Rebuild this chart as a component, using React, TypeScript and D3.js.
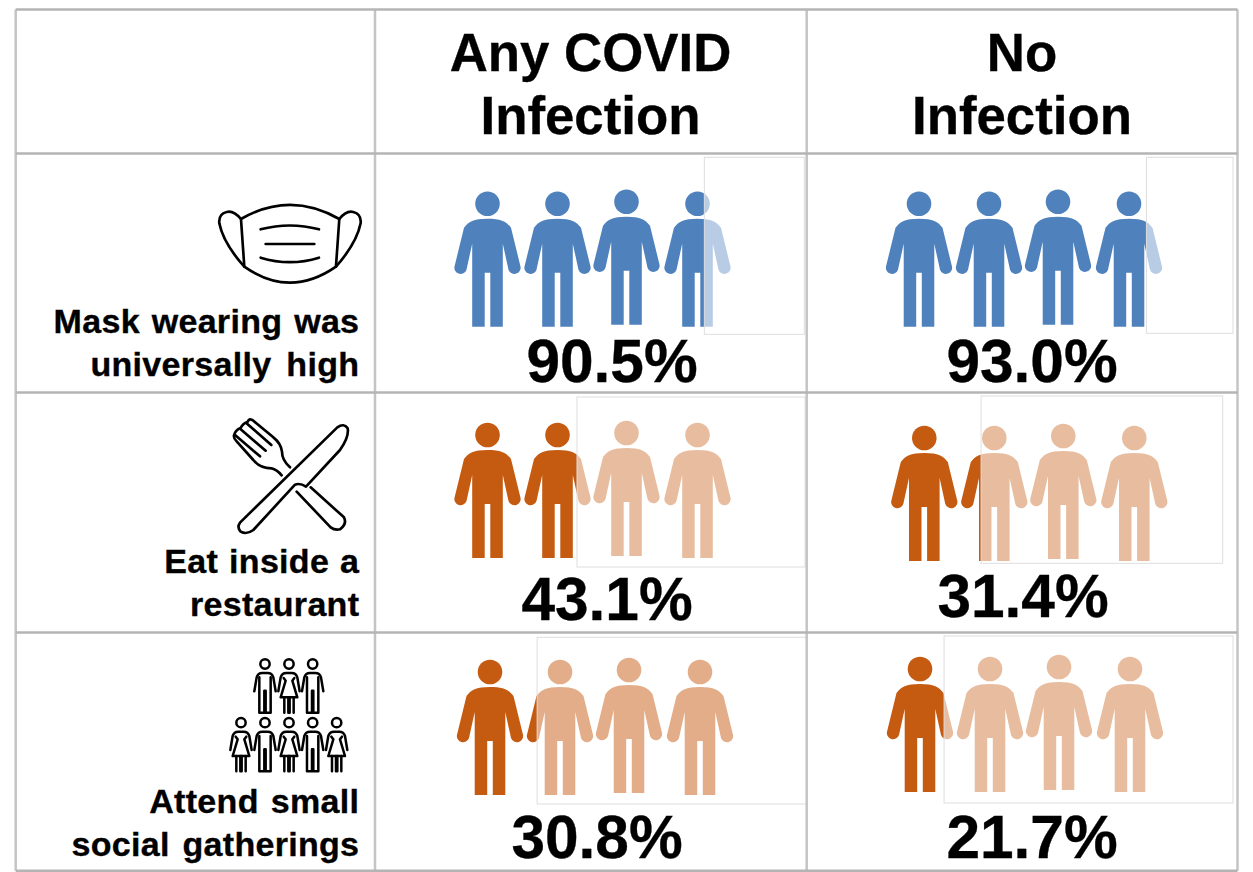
import React from "react";
import * as d3 from "d3";

const headers = [["Any COVID", "Infection"], ["No", "Infection"]];
const rowLabels = [
  ["Mask wearing was", "universally high"],
  ["Eat inside a", "restaurant"],
  ["Attend small", "social gatherings"],
];
const valuesAny = [90.5, 43.1, 30.8];
const valuesNone = [93.0, 31.4, 21.7];
const rowColors = ["#4F81BD", "#C55A11", "#C55A11"];

// layout constants
const W = 1253, H = 872;
const colEdges = [15.7, 375, 806.7, 1237.5];
const rowEdges = [9.5, 153.4, 392.6, 632.5, 870.8];
const personOffsets = [0, 70, 139, 210];
const personLift = [0, 0, -2, 0];
// first head centre per [row][panel]
const firstHead = [[[487.5, 203.7], [919, 203.7]], [[487.5, 435], [924.3, 438]], [[490, 672], [920, 669]]];
// overlay box per [row][panel]: nudge from value, right, top, bottom, white alpha
const overlayBox = [
  [[0.3, 804.3, 157.3, 334.3, 0.6], [4, 1233, 157.3, 333.3, 0.6]],
  [[3.5, 805, 397, 567, 0.6], [3, 1222.7, 396, 563.3, 0.6]],
  [[-5, 806.7, 637.3, 804, 0.5], [-3, 1233, 636, 803, 0.6]],
];
const valueLabelPos = [[[612, 382], [1032, 382]], [[607, 620], [1023, 617]], [[597, 858], [1032, 858]]];
const labelWordSpacing = [[2.1, 5.2], [1.2, 4], [2.4, 3]];

const personBody = "M0,15 C14,15 19,18 23.5,24 L32.8,62 A6,6 0 0 1 21,66 L15.3,40 L15.3,123 L2.8,123 L2.8,69 L-2.8,69 L-2.8,123 L-15.3,123 L-15.3,40 L-21,66 A6,6 0 0 1 -32.8,62 L-23.5,24 C-19,18 -14,15 0,15 Z";

const Person = ({ x, y, color }: { x: number; y: number; color: string }) => (
  <g transform={`translate(${x},${y})`} fill={color}>
    <circle cx={0} cy={0} r={12.3} />
    <path d={personBody} />
  </g>
);

const ink = { fill: "none", stroke: "#000", strokeLinecap: "round" as const, strokeLinejoin: "round" as const };

const MaskIcon = () => (
  <g transform="translate(0,150) scale(0.3333)" {...ink} strokeWidth={8}>
    <path d="M723,207 Q870,122 1018,207 L1008,350 Q870,446 733,350 Z" />
    <path d="M723,207 Q700,180 680,186 Q655,192 658,220 Q670,280 733,350" />
    <path d="M1018,207 Q1040,180 1060,186 Q1085,192 1082,220 Q1070,280 1008,350" />
    <path d="M782,238 Q870,215 957,238" />
    <path d="M797,282 L943,282" />
    <path d="M782,323 Q870,350 957,323" />
  </g>
);

const CutleryIcon = () => (
  <g transform="translate(200,400) scale(0.3333)" {...ink} strokeWidth={8}>
    <path d="M270,202 Q246,180 246,155 Q243,130 220,112 L160,62 Q148,53 143,65 M143,65 Q128,70 122,84 Q106,90 102,106 Q100,114 110,124 L160,180 Q180,205 215,205 Q230,208 245,226" />
    <path d="M214,135 L142,72" />
    <path d="M197,152 L122,88" />
    <path d="M180,169 L106,106" />
    <path d="M120,368 L412,82 Q432,68 443,85 Q448,110 420,150 L318,260 Q300,248 285,254 L160,390 Q140,405 122,395 Q110,382 120,368 Z" />
    <path d="M332,262 L432,352 Q442,372 420,388 Q405,392 392,382 L290,275" />
  </g>
);

const Figure = ({ x, y, female }: { x: number; y: number; female: boolean }) => (
  <g transform={`translate(${x},${y})`}>
    <circle cx={0} cy={0} r={14} />
    <path d="M-32,82 L-25,40 Q-21,27 -8,27 L8,27 Q21,27 25,40 L32,82" />
    {female ? (
      <>
        <path d="M-16,42 L-10,50 L-25,100 L25,100 L10,50 L16,42" />
        <path d="M-14,100 L-14,146 M-2,100 L-2,146 M14,100 L14,146 M2,100 L2,146" />
      </>
    ) : (
      <>
        <path d="M-17,40 L-17,146 L-2,146 L-2,80 L2,80 L2,146 L17,146 L17,40" />
      </>
    )}
  </g>
);

const topFigures = [[135, false], [207, true], [278, false]] as const;
const bottomFigures = [[63, true], [135, false], [207, true], [278, false], [350, true]] as const;

const GatheringIcon = () => (
  <g transform="translate(220,650) scale(0.3333)" {...ink} strokeWidth={7.5}>
    {topFigures.map(([x, f]) => <Figure key={`t${x}`} x={x} y={42} female={f} />)}
    {bottomFigures.map(([x, f]) => <Figure key={`b${x}`} x={x} y={218} female={f} />)}
  </g>
);

export default function App() {
  const panels = [valuesAny, valuesNone];
  const textBase = { fontFamily: "'Liberation Sans', Arial, sans-serif", fontWeight: 700, fill: "#000", stroke: "#000", strokeWidth: 0.35 };
  return (
    <svg width={W} height={H} viewBox={`0 0 ${W} ${H}`} style={{ position: "absolute", left: 0, top: 0, background: "#fff" }}>
      {headers.map((lines, c) =>
        lines.map((t, i) => (
          <text key={`${c}-${i}`} x={c === 0 ? 590.5 : 1022} y={71 + i * 63} textAnchor="middle" fontSize={52.8} {...textBase}>{t}</text>
        ))
      )}

      {panels.map((values, p) =>
        values.map((v, r) => {
          const [hx, hy] = firstHead[r][p];
          const x = d3.scaleLinear().domain([0, 100]).range([hx - 32.7, hx + 210 + 32.7]);
          const [nudge, right, top, bottom, alpha] = overlayBox[r][p];
          const left = x(v) + nudge;
          const [lx, ly] = valueLabelPos[r][p];
          return (
            <g key={`${p}-${r}`}>
              {personOffsets.map((o, i) => (
                <Person key={i} x={hx + o} y={hy + personLift[i]} color={rowColors[r]} />
              ))}
              <rect x={left} y={top} width={right - left} height={bottom - top} fill="#fff" fillOpacity={alpha} stroke="#DEDEDE" strokeWidth={1} />
              <text x={lx} y={ly} textAnchor="middle" fontSize={60.4} {...textBase}>{v.toFixed(1)}%</text>
            </g>
          );
        })
      )}

      {rowLabels.map((lines, r) =>
        lines.map((t, i) => (
          <text key={`${r}-${i}`} x={359.3} y={[333, 573, 813][r] + i * 43} textAnchor="end" fontSize={34} letterSpacing={0.3} wordSpacing={labelWordSpacing[r][i]} {...textBase}>{t}</text>
        ))
      )}

      <MaskIcon />
      <CutleryIcon />
      <GatheringIcon />

      <g strokeWidth={2.5}>
        {colEdges.map(x => <line key={x} x1={x} x2={x} y1={rowEdges[0]} y2={rowEdges[4]} stroke="#C4C4C4" />)}
        {rowEdges.map(y => <line key={y} x1={colEdges[0]} x2={colEdges[3]} y1={y} y2={y} stroke="#B4B4B4" />)}
      </g>
    </svg>
  );
}
